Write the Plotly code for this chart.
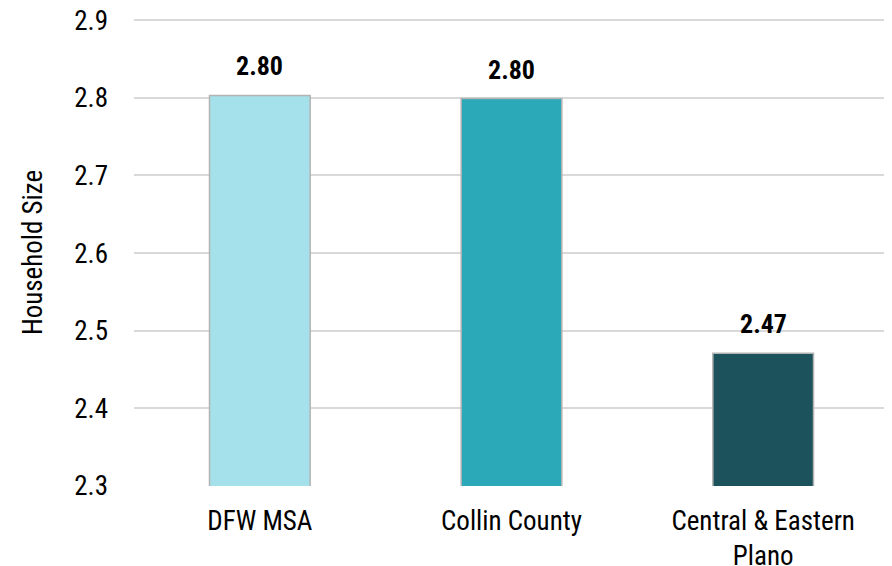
import plotly.graph_objects as go

categories = ["DFW MSA", "Collin County", "Central & Eastern<br>Plano"]
household_size = [2.803, 2.799, 2.471]
value_labels = ["2.80", "2.80", "2.47"]
bar_colors = ["#a4e1ea", "#2ba9b8", "#1b525b"]
y_ticks = [2.3, 2.4, 2.5, 2.6, 2.7, 2.8, 2.9]

FONT = "Arial Narrow, Liberation Sans Narrow, Roboto Condensed, sans-serif"

fig = go.Figure()
fig.add_trace(go.Bar(
    x=categories,
    y=household_size,
    marker=dict(color=bar_colors, line=dict(color="#b3b3b3", width=1.5)),
    width=0.4,
    hoverinfo="skip",
))

for c, v, t in zip(categories, household_size, value_labels):
    fig.add_annotation(x=c, y=v, text="<b>" + t + "</b>", showarrow=False,
                       yanchor="bottom", yshift=12,
                       font=dict(family=FONT, size=26, color="#000000"))

fig.update_layout(
    width=884, height=558,
    margin=dict(l=126, r=3, t=11, b=80),
    paper_bgcolor="white", plot_bgcolor="white",
    showlegend=False,
    font=dict(family=FONT, size=27, color="#000000"),
    xaxis=dict(showgrid=False, showline=False, zeroline=False, automargin=False,
               ticks="", ticklabelstandoff=16, ticklabeloverflow="allow",
               tickfont=dict(family=FONT, size=27, color="#000000")),
    yaxis=dict(range=[2.3, 2.9015], tickvals=y_ticks, automargin=False,
               ticktext=[f"{v:.1f}" for v in y_ticks],
               showgrid=True, gridcolor="#d9d9d9", gridwidth=1.5,
               zeroline=False, showline=False, ticks="",
               ticklabelstandoff=25, ticklabeloverflow="allow",
               tickfont=dict(family=FONT, size=27, color="#000000")),
)
fig.update_yaxes(title=dict(text="Household Size", standoff=23,
                            font=dict(family=FONT, size=27, color="#000000")))

fig.write_html("out.html")
